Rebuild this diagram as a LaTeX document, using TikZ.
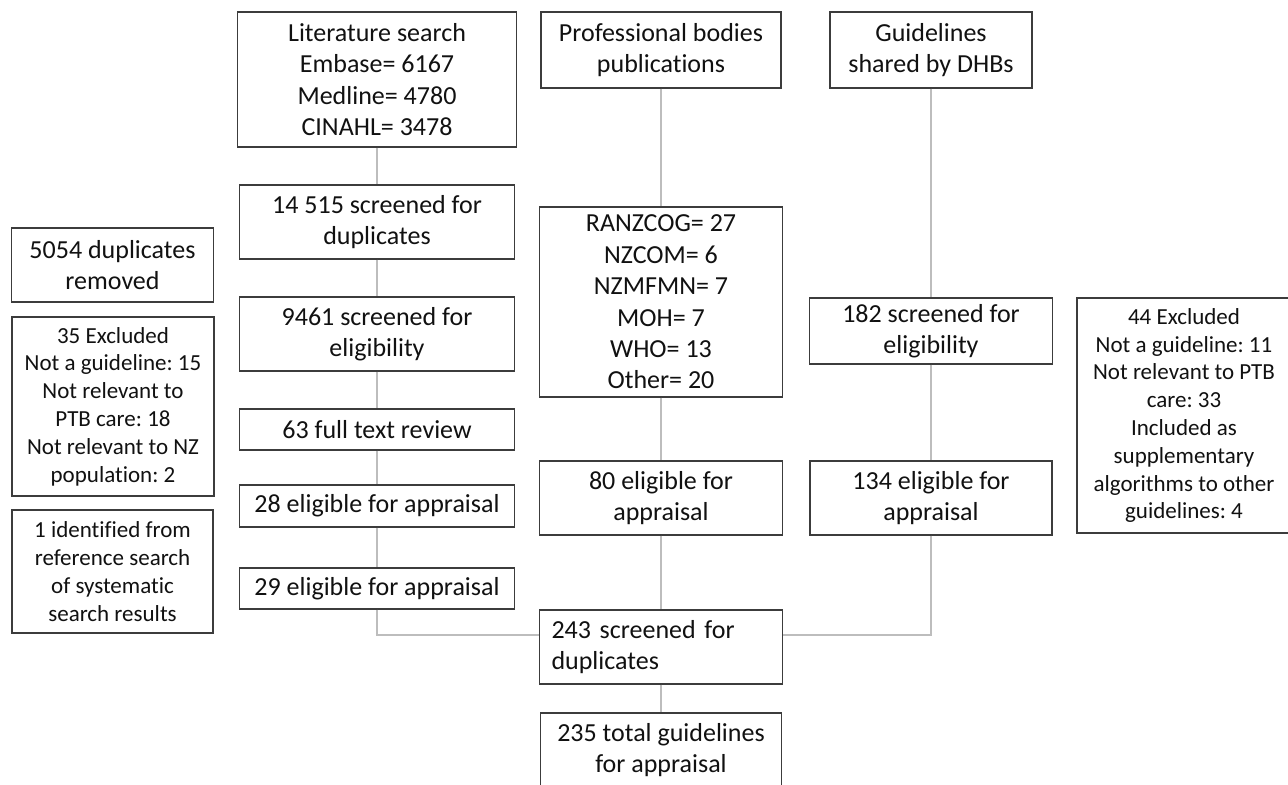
\documentclass[tikz,border=0pt]{standalone}
\usepackage{fontspec}
\setmainfont{Carlito}[Ligatures=TeX,RawFeature={-liga,-clig,-dlig}]
\frenchspacing
\definecolor{boxline}{HTML}{3C3C3C}
\definecolor{connline}{HTML}{BDBDBD}
\definecolor{txt}{HTML}{111111}
\newcommand{\mainsz}{\fontsize{13}{15.7}\selectfont}
\newcommand{\smallsz}{\fontsize{11.5}{13.9}\selectfont}
\begin{document}
\begin{tikzpicture}[x=0.5pt,y=-0.5pt,
  box/.style={draw=boxline, line width=0.7pt, rectangle, inner sep=0pt, align=center, text=txt, font=\mainsz, fill=white},
  smallbox/.style={box, font=\smallsz},
  conn/.style={draw=connline, line width=0.75pt}]
\useasboundingbox[fill=white] (0,0) rectangle (1288,784);

% left column
\node[box, minimum width=139.5pt, minimum height=67.5pt] (lit) at (377,79.5) {Literature search\\Embase= 6167\\Medline= 4780\\CINAHL= 3478};
\node[box, minimum width=137.5pt, minimum height=37pt] (s14515) at (377,222) {14 515 screened for\\duplicates};
\node[box, minimum width=137.5pt, minimum height=37pt] (s9461) at (377,334) {9461 screened for\\eligibility};
\node[box, minimum width=137.5pt, minimum height=20.5pt] (ft63) at (377,429.5) {63 full text review};
\node[box, minimum width=137.5pt, minimum height=21pt] (e28) at (377,506) {28 eligible for appraisal};
\node[box, minimum width=137.5pt, minimum height=20.5pt] (e29) at (377,588.5) {29 eligible for appraisal};

% side boxes left
\node[box, minimum width=101pt, minimum height=37pt] (dup) at (112.5,265) {5054 duplicates\\removed};
\node[smallbox, minimum width=101pt, minimum height=89.5pt] (ex35) at (113,406.5) {35 Excluded\\Not a guideline: 15\\Not relevant to\\PTB care: 18\\Not relevant to NZ\\population: 2};
\node[smallbox, minimum width=100.5pt, minimum height=61.5pt] (id1) at (112.5,571.5) {1 identified from\\reference search\\of systematic\\search results};

% middle column
\node[box, minimum width=120pt, minimum height=38pt] (prof) at (661,50) {Professional bodies\\publications};
\node[box, minimum width=121.5pt, minimum height=95pt] (ranz) at (661,302) {RANZCOG= 27\\NZCOM= 6\\NZMFMN= 7\\MOH= 7\\WHO= 13\\Other= 20};
\node[box, minimum width=121.5pt, minimum height=37pt] (e80) at (661,498) {80 eligible for\\appraisal};
\node[box, minimum width=121.5pt, minimum height=37pt, text width=109.5pt, align=left] (s243) at (661,647) {243 screened for\\duplicates};
\node[box, minimum width=120.5pt, minimum height=37pt] (t235) at (661,750) {235 total guidelines\\for appraisal};

% right column
\node[box, minimum width=101pt, minimum height=38pt] (dhb) at (931,50) {Guidelines\\shared by DHBs};
\node[box, minimum width=121.5pt, minimum height=33pt] (s182) at (931,331) {182 screened for\\eligibility};
\node[box, minimum width=121pt, minimum height=37pt] (e134) at (931,498) {134 eligible for\\appraisal};
\node[smallbox, minimum width=107pt, minimum height=117.5pt] (ex44) at (1184,415.5) {44 Excluded\\Not a guideline: 11\\Not relevant to PTB\\care: 33\\Included as\\supplementary\\algorithms to other\\guidelines: 4};

\coordinate (jy) at (0,635);

\draw[conn] (lit) -- (s14515);
\draw[conn] (s14515) -- (s9461);
\draw[conn] (s9461) -- (ft63);
\draw[conn] (ft63) -- (e28);
\draw[conn] (e28) -- (e29);
\draw[conn] (e29.south) |- (s243.west |- jy);
\draw[conn] (prof) -- (ranz);
\draw[conn] (ranz) -- (e80);
\draw[conn] (e80) -- (s243);
\draw[conn] (s243) -- (t235);
\draw[conn] (dhb) -- (s182);
\draw[conn] (s182) -- (e134);
\draw[conn] (e134.south) |- (s243.east |- jy);
\end{tikzpicture}
\end{document}
